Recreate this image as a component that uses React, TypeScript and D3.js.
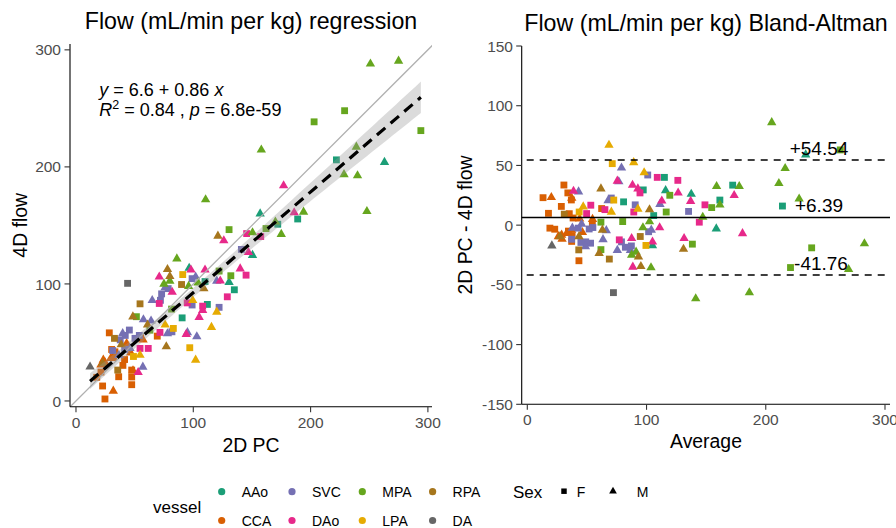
import React from "react";
import * as d3 from "d3";

// vessel categories (Dark2 order)
const VESSELS = ["AAo", "CCA", "SVC", "DAo", "MPA", "LPA", "RPA", "DA"];
const COLORS = ["#1B9E77", "#D95F02", "#7570B3", "#E7298A", "#66A61E", "#E6AB02", "#A6761D", "#666666"];
const SEXES = ["F", "M"];

// [2D PC, 4D flow, sex]
const AAo: [number, number, string][] = [
  [222, 206, "F"], [189, 155.5, "F"], [172, 151, "F"], [135, 95, "F"], [112, 82.5, "F"], [110, 102, "F"], [90.5, 71, "F"],
  [263, 204, "M"], [157, 160, "M"], [150.5, 124.5, "M"], [96.5, 113.5, "M"], [130.5, 101.5, "M"],
];
const MPA: [number, number, string][] = [
  [229, 248, "F"], [203, 238.5, "F"], [294, 231, "F"], [162, 147.3, "F"], [130.5, 146.4, "F"], [122, 111, "F"],
  [132, 107, "F"], [81.5, 78.5, "F"], [51.5, 72, "F"], [63, 60.5, "F"],
  [251, 288, "M"], [275, 290.5, "M"], [158, 214.5, "M"], [239, 217, "M"], [228.5, 193.5, "M"], [240, 192.5, "M"],
  [110.5, 172, "M"], [248, 162, "M"], [194, 161.5, "M"], [170, 153, "M"], [175, 142.5, "M"], [150.5, 143.8, "M"],
  [86, 121.5, "M"], [75, 100, "M"], [80, 102.5, "M"], [104, 101, "M"], [96, 98, "M"],
];
const SVC: [number, number, string][] = [
  [141, 129.5, "F"], [99, 104.5, "F"], [73, 91.5, "F"], [122, 80, "F"], [99, 82, "F"], [81.8, 59.1, "F"],
  [45.5, 60.6, "F"], [50.3, 53.5, "F"], [41.5, 44, "F"], [31.3, 43.1, "F"], [37.7, 52.2, "F"], [42, 56, "F"],
  [72, 86, "F"], [54, 56, "F"], [78.6, 96, "F"],
  [120, 102.5, "M"], [76, 97, "M"], [65, 86, "M"], [57.5, 69.5, "M"], [64, 68.5, "M"], [95, 58.5, "M"],
  [103, 55, "M"], [39.8, 57.7, "M"], [57, 29, "M"], [78, 57.5, "M"], [102, 106, "M"], [36.6, 39, "M"], [46, 45, "M"],
];
const CCA: [number, number, string][] = [
  [28.4, 58.2, "F"], [55.1, 54, "F"], [69.3, 55.4, "F"], [30.4, 44, "F"], [33.2, 42, "F"], [36.4, 20.7, "F"],
  [47.5, 26.4, "F"], [47.5, 20.5, "F"], [47.5, 13.9, "F"], [22.7, 12.8, "F"], [24.7, 1.7, "F"], [40, 30.4, "F"],
  [17.7, 20.2, "F"], [21.3, 24.7, "F"], [41.4, 35.4, "F"], [32, 37, "F"],
  [43.2, 49.2, "M"], [46.6, 41.2, "M"], [23.3, 35, "M"], [21.3, 30.8, "M"], [24.7, 32.9, "M"], [29.6, 36.4, "M"],
  [35.2, 39.2, "M"], [31.8, 8.5, "M"], [48.6, 26, "M"], [57.2, 52.2, "M"],
];
const DAo: [number, number, string][] = [
  [129, 89, "F"], [145, 107.5, "F"], [108, 81, "F"], [94.8, 83.8, "F"], [157.5, 140.5, "F"], [145.5, 143, "F"],
  [71.6, 58.6, "F"], [54.6, 44.9, "F"], [61.6, 44.9, "F"], [71, 83.3, "F"],
  [105, 71.5, "M"], [108, 77.5, "M"], [140, 113, "M"], [147, 127, "M"], [123, 102.6, "M"], [110, 112, "M"],
  [98, 112, "M"], [82, 93, "M"], [71, 106, "M"], [126, 137, "M"], [186, 161, "M"], [177, 184, "M"],
  [53, 24.5, "M"], [94, 57, "M"],
];
const LPA: [number, number, string][] = [
  [91, 108, "F"], [97, 45.5, "F"], [83, 62, "F"], [49, 38, "F"],
  [102, 35, "M"], [115.5, 63, "M"], [120, 76, "M"], [76, 65, "M"], [54.6, 39.2, "M"], [99.5, 86, "M"],
];
const RPA: [number, number, string][] = [
  [90, 99.5, "F"], [54.6, 83, "F"], [32.8, 53.5, "F"], [35.6, 26.4, "F"],
  [77, 46.5, "M"], [109, 96, "M"], [121, 141, "M"], [80, 106.5, "M"], [78, 112.5, "M"], [48.5, 72, "M"],
  [61, 65, "M"], [38.6, 48.1, "M"], [22.7, 32.2, "M"],
];
const DA: [number, number, string][] = [
  [44, 100.5, "F"], [12, 29.2, "M"],
];
const SERIES = [AAo, CCA, SVC, DAo, MPA, LPA, RPA, DA];

// printed statistics
const INTERCEPT = 6.6;
const SLOPE = 0.86;
const BA_MEAN = 6.39;
const BA_UPPER = 54.54;
const BA_LOWER = -41.76;

const L_XTICKS = [0, 100, 200, 300];
const L_YTICKS = [0, 100, 200, 300];
const R_XTICKS = [0, 100, 200, 300];
const R_YTICKS = [-150, -100, -50, 0, 50, 100, 150];

const FONT = "'Liberation Sans', Arial, Helvetica, sans-serif";

type Pt = { x: number; y: number; sex: string; vi: number };

export default function App() {
  const pts: Pt[] = [];
  SERIES.forEach((s, vi) => s.forEach(([x, y, sex]) => pts.push({ x, y, sex, vi })));

  const xL = d3.scaleLinear().domain([-5.1, 303.5]).range([70, 432]);
  const yL = d3.scaleLinear().domain([-4.9, 305]).range([406.7, 44]);
  const xR = d3.scaleLinear().domain([-4.7, 304.2]).range([521.7, 890]);
  const yR = d3.scaleLinear().domain([-150, 150]).range([404.3, 46]);

  const sq = d3.symbol().type(d3.symbolSquare).size(47)()!;
  const tri = d3.symbol().type(d3.symbolTriangle).size(38)()!;
  const shape = (sex: string) => (sex === "F" ? sq : tri);

  // regression band
  const n = pts.length;
  const xs = pts.map((p) => p.x);
  const xbar = d3.mean(xs)!;
  const sxx = d3.sum(xs, (v) => (v - xbar) ** 2);
  const sse = d3.sum(pts, (p) => (p.y - (INTERCEPT + SLOPE * p.x)) ** 2);
  const s = Math.sqrt(sse / (n - 2));
  const t = 1.977;
  const [xmin, xmax] = d3.extent(xs) as [number, number];
  const grid = d3.range(0, 81).map((i) => xmin + ((xmax - xmin) * i) / 80);
  const half = (v: number) => t * s * Math.sqrt(1 / n + (v - xbar) ** 2 / sxx);
  const band = d3
    .area<number>()
    .x((v) => xL(v))
    .y0((v) => yL(INTERCEPT + SLOPE * v - half(v)))
    .y1((v) => yL(INTERCEPT + SLOPE * v + half(v)))(grid)!;

  const tickColor = "#4D4D4D";

  return (
    <svg
      width={896}
      height={528}
      style={{ position: "absolute", left: 0, top: 0, background: "#fff" }}
      fontFamily={FONT}
    >
      <defs>
        <clipPath id="clipL">
          <rect x={70} y={44} width={362} height={362.7} />
        </clipPath>
      </defs>
      <rect x={0} y={0} width={896} height={528} fill="#fff" />

      {/* ---------- LEFT PANEL ---------- */}
      <text x={251} y={28.5} fontSize={23.2} textAnchor="middle" fill="#000">
        Flow (mL/min per kg) regression
      </text>
      <g>
        {pts.map((p, i) => (
          <path
            key={"l" + i}
            d={shape(p.sex)}
            transform={`translate(${xL(p.x)},${yL(p.y)})`}
            fill={COLORS[p.vi]}
          />
        ))}
      </g>
      <g clipPath="url(#clipL)">
        <line x1={xL(-10)} y1={yL(-10)} x2={xL(320)} y2={yL(320)} stroke="#B0B0B0" strokeWidth={1.3} />
        <path d={band} fill="#999" fillOpacity={0.35} />
        <line
          x1={xL(xmin)}
          y1={yL(INTERCEPT + SLOPE * xmin)}
          x2={xL(xmax)}
          y2={yL(INTERCEPT + SLOPE * xmax)}
          stroke="#000"
          strokeWidth={3.2}
          strokeDasharray="11,7"
        />
      </g>
      <text x={99.3} y={95.5} fontSize={18} fill="#000">
        <tspan fontStyle="italic">y</tspan>
        <tspan>{" = 6.6 + 0.86 "}</tspan>
        <tspan fontStyle="italic">x</tspan>
      </text>
      <text x={99.3} y={116} fontSize={18} fill="#000">
        <tspan fontStyle="italic">R</tspan>
        <tspan fontSize={12.5} dy={-7}>2</tspan>
        <tspan dy={7}>{" = 0.84 , "}</tspan>
        <tspan fontStyle="italic">p</tspan>
        <tspan>{" = 6.8e-59"}</tspan>
      </text>
      {/* axes */}
      <line x1={70} y1={44} x2={70} y2={406.7} stroke="#000" strokeWidth={1.1} />
      <line x1={70} y1={406.7} x2={432} y2={406.7} stroke="#000" strokeWidth={1.1} />
      {L_YTICKS.map((v) => (
        <g key={"ly" + v}>
          <line x1={64.5} x2={70} y1={yL(v)} y2={yL(v)} stroke="#333" strokeWidth={1.1} />
          <text x={61} y={yL(v)} dy="0.36em" textAnchor="end" fontSize={15.5} fill={tickColor}>
            {v}
          </text>
        </g>
      ))}
      {L_XTICKS.map((v) => (
        <g key={"lx" + v}>
          <line x1={xL(v)} x2={xL(v)} y1={406.7} y2={412.2} stroke="#333" strokeWidth={1.1} />
          <text x={xL(v)} y={422.7} dy="0.36em" textAnchor="middle" fontSize={15.5} fill={tickColor}>
            {v}
          </text>
        </g>
      ))}
      <text x={251} y={451.5} fontSize={19.4} textAnchor="middle" fill="#000">
        2D PC
      </text>
      <text transform="translate(27,225.3) rotate(-90)" fontSize={19.4} textAnchor="middle" fill="#000">
        4D flow
      </text>

      {/* ---------- RIGHT PANEL ---------- */}
      <text x={706} y={30.5} fontSize={23.2} textAnchor="middle" fill="#000">
        Flow (mL/min per kg) Bland-Altman
      </text>
      <g>
        {pts.map((p, i) => (
          <path
            key={"r" + i}
            d={shape(p.sex)}
            transform={`translate(${xR((p.x + p.y) / 2)},${yR(p.x - p.y)})`}
            fill={COLORS[p.vi]}
          />
        ))}
      </g>
      <line x1={521.7} x2={890} y1={yR(BA_MEAN)} y2={yR(BA_MEAN)} stroke="#000" strokeWidth={1.5} />
      <line x1={521.7} x2={890} y1={yR(BA_UPPER)} y2={yR(BA_UPPER)} stroke="#000" strokeWidth={1.5} strokeDasharray="7,6" strokeDashoffset={-5} />
      <line x1={521.7} x2={890} y1={yR(BA_LOWER)} y2={yR(BA_LOWER)} stroke="#000" strokeWidth={1.5} strokeDasharray="7,6" strokeDashoffset={-5} />
      <text x={819} y={155} fontSize={19} textAnchor="middle" fill="#000">
        {"+" + BA_UPPER.toFixed(2)}
      </text>
      <text x={819} y={211.7} fontSize={19} textAnchor="middle" fill="#000">
        {"+" + BA_MEAN.toFixed(2)}
      </text>
      <text x={821} y={270} fontSize={19} textAnchor="middle" fill="#000">
        {BA_LOWER.toFixed(2)}
      </text>
      <line x1={521.7} y1={46} x2={521.7} y2={404.3} stroke="#000" strokeWidth={1.1} />
      <line x1={521.7} y1={404.3} x2={890} y2={404.3} stroke="#000" strokeWidth={1.1} />
      {R_YTICKS.map((v) => (
        <g key={"ry" + v}>
          <line x1={516.2} x2={521.7} y1={yR(v)} y2={yR(v)} stroke="#333" strokeWidth={1.1} />
          <text x={513} y={yR(v)} dy="0.36em" textAnchor="end" fontSize={15.5} fill={tickColor}>
            {v}
          </text>
        </g>
      ))}
      {R_XTICKS.map((v) => (
        <g key={"rx" + v}>
          <line x1={xR(v)} x2={xR(v)} y1={404.3} y2={409.8} stroke="#333" strokeWidth={1.1} />
          <text x={xR(v)} y={419.5} dy="0.36em" textAnchor="middle" fontSize={15.5} fill={tickColor}>
            {v}
          </text>
        </g>
      ))}
      <text x={706} y={448} fontSize={19.4} textAnchor="middle" fill="#000">
        Average
      </text>
      <text transform="translate(472,225) rotate(-90)" fontSize={19.4} textAnchor="middle" fill="#000">
        2D PC - 4D flow
      </text>

      {/* ---------- LEGEND ---------- */}
      <text x={153} y={513} fontSize={17} fill="#000">
        vessel
      </text>
      {VESSELS.map((v, i) => {
        const col = Math.floor(i / 2);
        const row = i % 2;
        const cx = 221.7 + col * 70.3;
        const cy = 491.7 + row * 28.8;
        return (
          <g key={"leg" + v}>
            <circle cx={cx} cy={cy} r={3.6} fill={COLORS[i]} />
            <text x={cx + 20} y={cy} dy="0.36em" fontSize={14} fill="#000">
              {v}
            </text>
          </g>
        );
      })}
      <text x={513} y={491.7} dy="0.36em" fontSize={17} fill="#000">
        Sex
      </text>
      {SEXES.map((sx, i) => {
        const cx = 564 + i * 49;
        return (
          <g key={"sx" + sx}>
            <path
              d={d3.symbol().type(sx === "F" ? d3.symbolSquare : d3.symbolTriangle).size(sx === "F" ? 30 : 26)()!}
              transform={`translate(${cx},${491.2})`}
              fill="#000"
            />
            <text x={cx + (sx === "F" ? 12.7 : 23.7)} y={491.7} dy="0.36em" fontSize={14} fill="#000">
              {sx}
            </text>
          </g>
        );
      })}
    </svg>
  );
}
